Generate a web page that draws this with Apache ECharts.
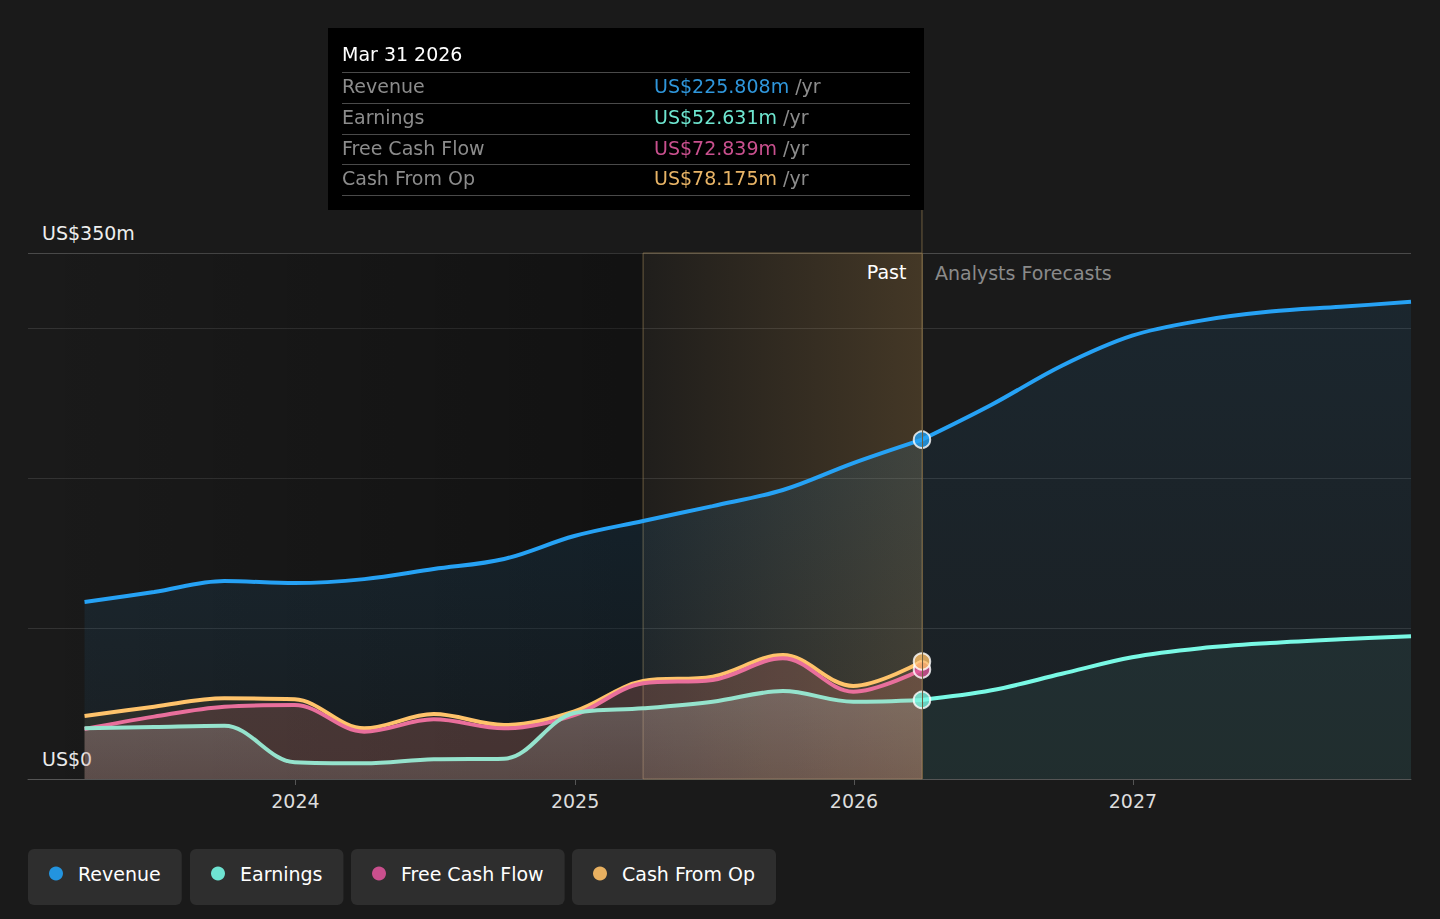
<!DOCTYPE html>
<html>
<head>
<meta charset="utf-8">
<script src="https://cdn.jsdelivr.net/npm/echarts@6/dist/echarts.min.js"></script>
<style>
  html, body { margin: 0; padding: 0; background: #1a1a1a; }
  #chart { width: 1440px; height: 919px; }
</style>
</head>
<body>
<div id="chart"></div>
<script>
// data (US$ m, trailing twelve months)
const pastDates = ['2023-03-31', '2023-06-30', '2023-09-30', '2023-12-31', '2024-03-31', '2024-06-30',
  '2024-09-30', '2024-12-31', '2025-03-31', '2025-06-30', '2025-09-30', '2025-12-31', '2026-03-31'];
const revenuePast = [117.8, 124.4, 131.7, 130.4, 133.0, 139.7, 146.4, 161.7, 171.7, 181.6, 192.3, 210.2, 225.808];
const earningsPast = [33.7, 34.6, 35.5, 11.1, 10.4, 13.1, 13.5, 43.9, 47.0, 51.4, 58.5, 51.4, 52.631];
const fcfPast = [33.3, 41.5, 48.1, 49.2, 31.5, 39.7, 33.7, 42.5, 63.7, 65.9, 80.3, 58.1, 72.839];
const cfoPast = [41.9, 48.1, 53.7, 53.0, 33.7, 43.2, 35.9, 45.0, 65.2, 68.1, 82.5, 61.9, 78.175];

const forecastDates = ['2026-03-31', '2026-06-30', '2026-09-30', '2026-12-31', '2027-03-31', '2027-06-30',
  '2027-09-30', '2027-12-31'];
const revenueForecast = [225.808, 249.0, 275.0, 295.0, 305.0, 311.0, 314.2, 317.5];
const earningsForecast = [52.631, 59.0, 70.0, 81.0, 87.0, 90.5, 93.0, 95.0];

const seriesNames = ['Revenue', 'Earnings', 'Free Cash Flow', 'Cash From Op'];
const seriesColors = ['#2394df', '#6ee3d1', '#c94f8d', '#e8b060'];
const yLabels = { 0: 'US$0', 350: 'US$350m' };

const axisStart = '2023-01-16';
const axisEnd = '2027-12-31';
const highlightStart = '2025-03-31';

const FONT = 'DejaVu Sans';
const t = s => new Date(s + 'T00:00:00').getTime();
const zip = (dates, vals) => dates.map((d, i) => [t(d), vals[i]]);
const vgrad = (c0, c1) => new echarts.graphic.LinearGradient(0, 0, 0, 1, [
  { offset: 0, color: c0 }, { offset: 1, color: c1 }
]);
const hgrad = (c0, c1) => new echarts.graphic.LinearGradient(0, 0, 1, 0, [
  { offset: 0, color: c0 }, { offset: 1, color: c1 }
]);

const last = pastDates.length - 1;
const pastValues = [revenuePast, earningsPast, fcfPast, cfoPast];

function fmtDate(s) {
  const m = ['Jan', 'Feb', 'Mar', 'Apr', 'May', 'Jun', 'Jul', 'Aug', 'Sep', 'Oct', 'Nov', 'Dec'];
  const d = new Date(s + 'T00:00:00');
  return m[d.getMonth()] + ' ' + d.getDate() + ' ' + d.getFullYear();
}

function tooltipHtml() {
  let html = '<div style="font-size:19px;color:#fff;line-height:28px;margin-bottom:4px">' + fmtDate(pastDates[last]) + '</div>';
  const valColors = ['#2f96db', '#6ee6d0', '#c9508e', '#e8b466'];
  seriesNames.forEach((n, i) => {
    const lastRow = i === seriesNames.length - 1;
    html += '<div style="display:flex;border-top:1px solid #4a4a4a;' + (lastRow ? 'border-bottom:1px solid #4a4a4a;' : '') +
      'height:29.75px;line-height:27px;font-size:19px">' +
      '<span style="width:312px;color:#8c8c8c">' + n + '</span>' +
      '<span style="color:' + valColors[i] + '">US$' + pastValues[i][last].toFixed(3) + 'm</span>' +
      '<span style="color:#8c8c8c">&nbsp;/yr</span></div>';
  });
  return html;
}

const chart = echarts.init(document.getElementById('chart'), null, { renderer: 'svg' });

const legendLeft = [28, 190, 351, 572];

const option = {
  animation: false,
  backgroundColor: '#1a1a1a',
  textStyle: { fontFamily: FONT },
  grid: { left: 28, right: 29, top: 253, bottom: 140 },
  tooltip: {
    trigger: 'axis',
    alwaysShowContent: true,
    transitionDuration: 0,
    backgroundColor: '#000',
    borderWidth: 0,
    padding: [12, 14, 14, 14],
    position: [328, 28],
    extraCssText: 'width:568px;border-radius:0;box-shadow:none;font-family:"DejaVu Sans";',
    axisPointer: { type: 'line', lineStyle: { color: '#6e5d3e', width: 1, type: 'solid' }, label: { show: false } },
    formatter: tooltipHtml
  },
  legend: seriesNames.map((n, i) => ({
    data: [n],
    left: legendLeft[i],
    top: 849,
    selectedMode: false,
    backgroundColor: '#2e2e2e',
    borderRadius: 6,
    padding: [15, 21, 22, 21],
    icon: 'circle',
    itemWidth: 14,
    itemHeight: 14,
    textStyle: { color: '#fff', fontSize: 19, fontFamily: FONT, padding: [0, 0, 0, 10] }
  })),
  xAxis: {
    type: 'time',
    min: t(axisStart),
    max: t(axisEnd),
    minInterval: 365 * 24 * 3600 * 1000,
    maxInterval: 366 * 24 * 3600 * 1000,
    axisLine: { lineStyle: { color: '#555', width: 1 } },
    axisTick: { show: true, length: 6, lineStyle: { color: '#555' } },
    splitLine: { show: false },
    axisLabel: {
      color: '#ddd', fontSize: 19, fontFamily: FONT, margin: 12,
      formatter: function (v) {
        const d = new Date(v);
        return (d.getMonth() === 0 && d.getDate() === 1) ? String(d.getFullYear()) : '';
      }
    }
  },
  yAxis: {
    type: 'value',
    min: 0,
    max: 350,
    interval: 100,
    axisLine: { show: false },
    axisTick: { show: false },
    splitLine: { lineStyle: { color: ['#444', '#333', '#333', '#333', '#4a4a4a'], width: 1 } },
    axisLabel: {
      inside: true,
      margin: 14,
      color: '#eee',
      fontSize: 19,
      fontFamily: FONT,
      verticalAlign: 'bottom',
      padding: [0, 0, 11, 0],
      formatter: v => yLabels[v] || ''
    }
  },
  series: [
    {
      // darker background for the older history
      type: 'line', data: [], z: 1, silent: true,
      markArea: {
        silent: true,
        itemStyle: { color: hgrad('rgba(0,0,0,0)', 'rgba(0,0,0,0.32)') },
        data: [[{ xAxis: t(axisStart) }, { xAxis: t(highlightStart) }]]
      }
    },
    {
      name: 'Revenue', type: 'line', z: 2,
      data: zip(pastDates, revenuePast),
      smooth: 0.35, symbol: 'none',
      lineStyle: { width: 4, color: seriesColors[0] },
      itemStyle: { color: seriesColors[0] },
      areaStyle: { color: vgrad('rgba(35,148,223,0.17)', 'rgba(35,148,223,0.06)') }
    },
    {
      name: 'Revenue', type: 'line', z: 2,
      data: zip(forecastDates, revenueForecast),
      smooth: 0.35, symbol: 'none',
      lineStyle: { width: 4, color: seriesColors[0] },
      itemStyle: { color: seriesColors[0] },
      areaStyle: { color: vgrad('rgba(35,148,223,0.13)', 'rgba(35,148,223,0.06)') }
    },
    {
      name: 'Cash From Op', type: 'line', z: 2,
      data: zip(pastDates, cfoPast),
      smooth: 0.35, symbol: 'none',
      lineStyle: { width: 4, color: '#e8b262' },
      itemStyle: { color: seriesColors[3] },
      areaStyle: { color: 'rgba(232,176,96,0.12)' }
    },
    {
      name: 'Free Cash Flow', type: 'line', z: 2,
      data: zip(pastDates, fcfPast),
      smooth: 0.35, symbol: 'none',
      lineStyle: { width: 4, color: '#d4658e' },
      itemStyle: { color: seriesColors[2] },
      areaStyle: { color: 'rgba(215,105,115,0.22)' }
    },
    {
      name: 'Earnings', type: 'line', z: 2,
      data: zip(pastDates, earningsPast),
      smooth: 0.35, symbol: 'none',
      lineStyle: { width: 4, color: '#88cfbb' },
      itemStyle: { color: seriesColors[1] },
      areaStyle: { color: vgrad('rgba(175,175,170,0.38)', 'rgba(175,175,170,0.22)') }
    },
    {
      name: 'Earnings', type: 'line', z: 2,
      data: zip(forecastDates, earningsForecast),
      smooth: 0.35, symbol: 'none',
      lineStyle: { width: 4, color: seriesColors[1] },
      itemStyle: { color: seriesColors[1] },
      areaStyle: { color: 'rgba(110,227,209,0.09)' }
    },
    {
      // last twelve months highlight + past / forecast captions
      type: 'line', data: [], z: 3, silent: true,
      markArea: {
        silent: true,
        data: [
          [{
            xAxis: t(highlightStart),
            itemStyle: {
              color: hgrad('rgba(215,160,80,0.03)', 'rgba(215,160,80,0.22)'),
              borderColor: 'rgba(140,118,78,0.7)', borderWidth: 1
            },
            label: {
              show: true, position: 'insideTopRight', formatter: 'Past',
              color: '#fff', fontSize: 19, fontFamily: FONT, offset: [-11, 5]
            }
          }, { xAxis: t(pastDates[last]) }],
          [{
            xAxis: t(pastDates[last]),
            itemStyle: { color: 'rgba(0,0,0,0)' },
            label: {
              show: true, position: 'insideTopLeft', formatter: 'Analysts Forecasts',
              color: '#8a8a8a', fontSize: 19, fontFamily: FONT, offset: [8, 5]
            }
          }, { xAxis: t(axisEnd) }]
        ]
      }
    },
    {
      type: 'scatter', z: 4, silent: true,
      symbolSize: 15,
      data: pastValues.map((vals, i) => ({
        value: [t(pastDates[last]), vals[last]],
        itemStyle: { color: seriesColors[i], borderColor: '#fff', borderWidth: 2 }
      }))
    }
  ]
};

chart.setOption(option);

// short stub of the pointer line running up to the tooltip box
const px = chart.convertToPixel({ xAxisIndex: 0 }, t(pastDates[last]));
chart.setOption({
  graphic: [{
    type: 'line', silent: true, z: 10,
    shape: { x1: px, y1: 210, x2: px, y2: 253 },
    style: { stroke: '#6e5d3e', lineWidth: 1 }
  }]
});

chart.dispatchAction({ type: 'showTip', seriesIndex: 1, dataIndex: last });
</script>
</body>
</html>
